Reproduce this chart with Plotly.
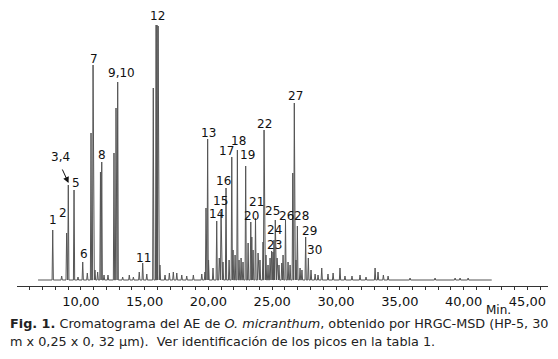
import plotly.graph_objects as go

# ---- data (retention time in min, abundance in arbitrary units) ----
peak_labels = ["1", "2", "3,4", "5", "6", "7", "8", "9,10", "11", "12",
               "13", "14", "15", "16", "17", "18", "19", "20", "21", "22",
               "23", "24", "25", "26", "27", "28", "29", "30"]
peak_rt = [7.80, 8.89, 9.02, 9.47, 10.15, 10.96, 11.64, 12.89, 14.85, 15.97,
           19.94, 20.65, 20.99, 21.38, 21.83, 22.27, 22.92, 23.32, 23.69, 24.36,
           24.95, 25.14, 25.24, 26.04, 26.73, 26.97, 27.62, 27.83]
peak_height = [50, 47, 95, 90, 18, 215, 118, 198, 17, 255,
               141, 59, 68, 92, 123, 130, 114, 58, 62, 150,
               29, 40, 60, 60, 177, 54, 43, 22]

# label positions (rt, abundance)
label_rt = [7.82, 8.63, 8.37, 9.62, 10.22, 11.07, 11.66, 13.15, 14.95, 16.01,
            19.99, 20.65, 20.91, 21.17, 21.38, 22.37, 23.03, 23.38, 23.77, 24.43,
            25.18, 25.18, 25.05, 26.11, 26.85, 27.31, 27.90, 28.28]
label_y = [60, 67, 123, 97, 26, 221, 125, 207, 22, 264,
           147, 66, 79, 99, 129, 139, 125, 64, 78, 156,
           35, 50, 69, 64, 184, 64, 49, 30]

# shoulders and minor peaks
minor_rt = [10.80, 12.60, 12.76, 15.68, 15.90, 16.06, 19.81, 26.61, 11.54,
            8.50, 9.78, 10.51, 11.11, 11.32, 11.82, 12.13, 13.28, 13.80, 14.12,
            14.58, 15.17, 16.20, 16.60, 16.94, 17.25, 17.52, 17.91, 18.30, 18.82,
            19.48, 19.73, 20.01, 20.36, 20.85, 21.14, 21.62, 21.93, 22.09, 22.40,
            22.56, 22.71, 23.11, 23.40, 23.50, 23.89, 24.04, 24.28, 24.51, 24.67,
            24.83, 25.06, 25.38, 25.53, 25.75, 25.85, 26.24, 26.40, 26.86, 27.18,
            27.33, 28.04, 28.36, 28.59, 28.88, 29.37, 29.77, 30.31, 30.70, 31.25,
            31.88, 32.35, 33.06, 33.29, 33.71, 34.08, 35.80, 37.76, 39.33, 39.72,
            40.35]
minor_height = [147, 127, 172, 192, 255, 254, 72, 107, 108,
                4, 3, 7, 10, 8, 5, 5, 3, 5, 3,
                8, 6, 15, 5, 7, 8, 7, 5, 4, 5,
                6, 8, 20, 12, 22, 18, 20, 30, 25, 20,
                22, 18, 37, 43, 30, 27, 20, 38, 25, 15,
                22, 28, 22, 15, 17, 25, 18, 15, 20, 12,
                10, 10, 6, 5, 12, 6, 7, 12, 4, 4,
                5, 3, 12, 8, 5, 4, 2, 2, 2, 2,
                2]

run_start = 6.65
run_end = 42.2

tick_vals = list(range(6, 47))
tick_text = [f"{v},00" if v % 5 == 0 else "" for v in tick_vals]

# ---- build chromatogram trace ----
all_peaks = sorted(zip(peak_rt + minor_rt, peak_height + minor_height))
hw = 0.05
xs = [run_start]
ys = [0]
for t, h in all_peaks:
    xs += [t - hw, t, t + hw]
    ys += [0, h, 0]
xs.append(run_end)
ys.append(0)

# page body has an 8px margin; figure is placed at (8, 8)
OFF = 8
W, H = 558 - OFF, 359 - OFF
PL, PR, PT, PB = 17, 548, 10, 286          # plot area in page pixels
ml, mt = PL - OFF, PT - OFF
mr = W - (PR - OFF)
mb = H - (PB - OFF)
pw, ph = PR - PL, PB - PT


def px(xp):
    return (xp - PL) / pw


def py(yp):
    return (PB - yp) / ph


fig = go.Figure()
fig.add_trace(go.Scatter(x=xs, y=ys, mode="lines",
                         line=dict(color="#555555", width=1),
                         hoverinfo="skip", showlegend=False))

font_main = "DejaVu Sans, Verdana, sans-serif"
for lab, lx, ly in zip(peak_labels, label_rt, label_y):
    fig.add_annotation(x=lx, y=ly, xref="x", yref="y", text=lab, showarrow=False,
                       font=dict(family=font_main, size=12, color="#111111"),
                       xanchor="center", yanchor="middle")

# arrow for 3,4
fig.add_annotation(x=peak_rt[2] + 0.02, y=peak_height[2] + 2, xref="x", yref="y",
                   ax=8.50, ay=112, axref="x", ayref="y", text="",
                   showarrow=True, arrowhead=2, arrowsize=1.2, arrowwidth=1,
                   arrowcolor="#111111")

# axis unit
fig.add_annotation(x=px(498), y=py(310), xref="paper", yref="paper",
                   text="Min.", showarrow=False,
                   font=dict(family=font_main, size=12, color="#111111"),
                   xanchor="center", yanchor="middle")

# caption
fig.add_annotation(x=px(8), y=py(323), xref="paper", yref="paper",
                   text="<b>Fig. 1.</b> Cromatograma del AE de <i>O. micranthum</i>, obtenido por HRGC-MSD (HP-5, 30",
                   showarrow=False, font=dict(family=font_main, size=12.8, color="#222222"),
                   xanchor="left", yanchor="middle")
fig.add_annotation(x=px(8), y=py(341), xref="paper", yref="paper",
                   text="m x 0,25 x 0, 32 μm).  Ver identificación de los picos en la tabla 1.",
                   showarrow=False, font=dict(family=font_main, size=12.8, color="#222222"),
                   xanchor="left", yanchor="middle")

fig.update_layout(
    width=W, height=H,
    margin=dict(l=ml, r=mr, t=mt, b=mb, autoexpand=False),
    paper_bgcolor="white", plot_bgcolor="white",
    xaxis=dict(range=[5.0, 46.61], tickmode="array", tickvals=tick_vals, ticktext=tick_text,
               ticks="outside", ticklen=3, tickcolor="#333333", tickwidth=1,
               showline=True, linecolor="#333333", linewidth=1,
               showgrid=False, zeroline=False, automargin=False,
               tickfont=dict(family=font_main, size=13, color="#111111")),
    yaxis=dict(range=[-6, 270], showticklabels=False, showgrid=False,
               zeroline=False, showline=False, ticks=""),
)

fig.write_html("out.html")
